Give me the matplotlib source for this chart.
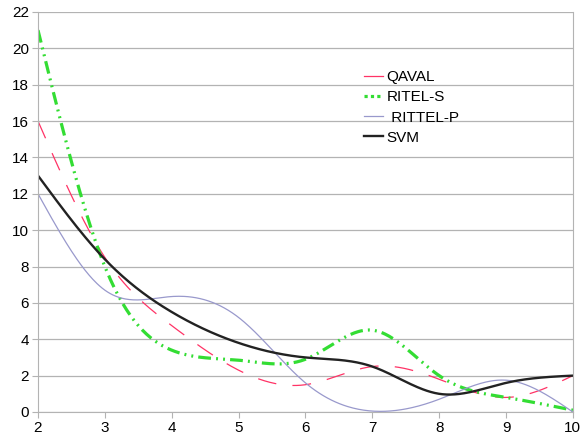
import numpy as np
import matplotlib.pyplot as plt

x_vals = [2, 3, 4, 5, 6, 7, 8, 9, 10]
qaval = [16, 8.5, 4.75, 2.3, 1.5, 2.5, 1.8, 0.8, 2.0]
ritel_s = [21, 8, 3.4, 2.85, 2.9, 4.5, 2.0, 0.8, 0.1]
rittel_p = [12, 6.7, 6.35, 5.2, 1.6, 0.05, 0.7, 1.75, 0.0]
svm = [13, 8.4, 5.5, 3.8, 3.0, 2.5, 1.0, 1.6, 2.0]
labels = ["QAVAL", "RITEL-S", " RITTEL-P", "SVM"]


def natural_spline(x, y, n=400):
    # natural cubic spline, same smoothing the original chart tool uses
    x = np.asarray(x, float)
    y = np.asarray(y, float)
    h = np.diff(x)
    k = len(x)
    A = np.zeros((k, k))
    b = np.zeros(k)
    A[0, 0] = A[-1, -1] = 1
    for i in range(1, k - 1):
        A[i, i - 1] = h[i - 1]
        A[i, i] = 2 * (h[i - 1] + h[i])
        A[i, i + 1] = h[i]
        b[i] = 6 * ((y[i + 1] - y[i]) / h[i] - (y[i] - y[i - 1]) / h[i - 1])
    m = np.linalg.solve(A, b)
    xs = np.linspace(x[0], x[-1], n)
    idx = np.clip(np.searchsorted(x, xs) - 1, 0, k - 2)
    t = xs - x[idx]
    hi = h[idx]
    a = (m[idx + 1] - m[idx]) / (6 * hi)
    c = (y[idx + 1] - y[idx]) / hi - hi * (2 * m[idx] + m[idx + 1]) / 6
    ys = y[idx] + c * t + m[idx] / 2 * t ** 2 + a * t ** 3
    return xs, ys


plt.rcParams['font.family'] = ['Liberation Sans', 'DejaVu Sans']
fig = plt.figure(figsize=(5.81, 4.42), dpi=100)
ax = fig.add_axes([0.0654, 0.0679, 0.9206, 0.9050])

styles = [
    dict(color='#ff3366', lw=0.9, dashes=(15, 13)),
    dict(color='#33dd33', lw=2.3, dashes=(4, 1.6, 0.6, 1.6, 0.6, 1.6)),
    dict(color='#9999cc', lw=0.9),
    dict(color='#222222', lw=1.7),
]
for series, lab, st in zip([qaval, ritel_s, rittel_p, svm], labels, styles):
    xs, ys = natural_spline(x_vals, series)
    ax.plot(xs, ys, label=lab, **st)

ax.set_xlim(2, 10)
ax.set_ylim(0, 22)
ax.set_xticks(range(2, 11))
ax.set_yticks(range(0, 23, 2))
ax.grid(axis='y', color='#b3b3b3', lw=0.9)
ax.set_axisbelow(True)
ax.spines['top'].set_visible(False)
for s in ['left', 'right', 'bottom']:
    ax.spines[s].set_color('#b3b3b3')
ax.tick_params(length=4, color='#b3b3b3', labelsize=11, pad=2.5)

leg = ax.legend(loc='upper left', bbox_to_anchor=(0.609, 0.855), frameon=False,
                fontsize=11, handlelength=1.25, handletextpad=0.25,
                labelspacing=0.41, borderaxespad=0, borderpad=0)
for h in leg.get_lines():
    h.set_linestyle('-')
leg.get_lines()[1].set_linestyle((0, (1, 1)))

fig.savefig('out.png', dpi=100)
